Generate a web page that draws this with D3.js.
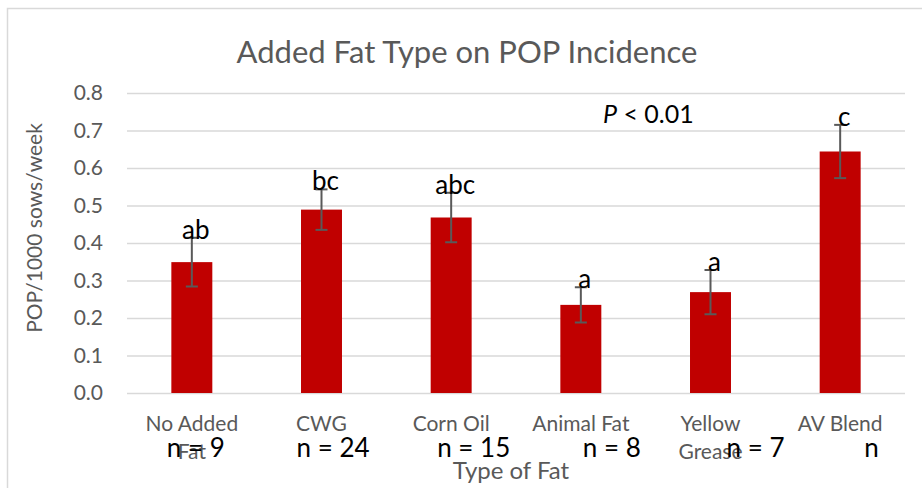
<!DOCTYPE html>
<html>
<head>
<meta charset="utf-8">
<script src="https://cdn.jsdelivr.net/npm/d3@7"></script>
<style>
  body { margin: 0; background: #fff; }
  svg { display: block; font-family: Lato, 'Open Sans', sans-serif; }
</style>
</head>
<body>
<svg id="chart"></svg>
<script>
// data
const fatTypes = ['No Added Fat', 'CWG', 'Corn Oil', 'Animal Fat', 'Yellow Grease', 'AV Blend'];
const fatLines = [['No Added', 'Fat'], ['CWG'], ['Corn Oil'], ['Animal Fat'], ['Yellow', 'Grease'], ['AV Blend']];
const popValues = [0.349, 0.489, 0.468, 0.235, 0.269, 0.644];
const popErrors = [0.065, 0.054, 0.066, 0.047, 0.059, 0.071];
const sigLetters = ['ab', 'bc', 'abc', 'a', 'a', 'c'];
const nLabels = ['n = 9', 'n = 24', 'n = 15', 'n = 8', 'n = 7', 'n'];
const yTicks = [0, 0.1, 0.2, 0.3, 0.4, 0.5, 0.6, 0.7, 0.8];

const d3 = window.d3;

const W = 922, H = 488;
const margin = { top: 93, right: 17, bottom: 95, left: 127 };
const width = W - margin.left - margin.right;
const height = H - margin.top - margin.bottom;

const svg = d3.select('#chart').attr('width', W).attr('height', H);

// chart frame (only the top and left edges fall inside the picture)
svg.append('path')
  .attr('d', `M7.5,${H} V8.5 H${W}`)
  .attr('fill', 'none')
  .attr('stroke', '#d9d9d9')
  .attr('stroke-width', 1.5);

svg.append('text')
  .attr('x', 467).attr('y', 63)
  .attr('text-anchor', 'middle')
  .attr('fill', '#595959')
  .style('font-size', '31px')
  .text('Added Fat Type on POP Incidence');

const g = svg.append('g').attr('transform', `translate(${margin.left}, ${margin.top})`);

const x = d3.scaleBand()
  .domain(fatTypes)
  .range([0, width])
  .paddingInner(0.684)
  .paddingOuter(0.342);

const y = d3.scaleLinear()
  .domain([0, 0.8])
  .range([height, 0]);

// gridlines
const grid = g.append('g')
  .call(d3.axisLeft(y).tickValues(yTicks).tickSize(-width).tickFormat(''));
grid.select('.domain').remove();
grid.selectAll('line').attr('stroke', '#d9d9d9').attr('stroke-width', 1.5);

// y tick labels
const yAxis = g.append('g')
  .call(d3.axisLeft(y).tickValues(yTicks).tickSize(0).tickPadding(24).tickFormat(d3.format('.1f')));
yAxis.select('.domain').remove();
yAxis.selectAll('text')
  .attr('fill', '#595959')
  .style('font-size', '21px')
  .style('font-family', 'Lato, sans-serif');

// bars
g.selectAll('rect.bar')
  .data(fatTypes)
  .enter()
  .append('rect')
  .attr('class', 'bar')
  .attr('fill', '#c00000')
  .attr('x', d => x(d))
  .attr('y', (d, i) => y(popValues[i]))
  .attr('width', x.bandwidth())
  .attr('height', (d, i) => height - y(popValues[i]));

// error bars
const cx = d => x(d) + x.bandwidth() / 2;
const err = g.selectAll('g.err')
  .data(fatTypes)
  .enter()
  .append('g')
  .attr('class', 'err')
  .attr('stroke', '#595959')
  .attr('stroke-width', 2);
err.append('line')
  .attr('x1', cx).attr('x2', cx)
  .attr('y1', (d, i) => y(popValues[i] + popErrors[i]))
  .attr('y2', (d, i) => y(popValues[i] - popErrors[i]));
err.append('line')
  .attr('x1', d => cx(d) - 6).attr('x2', d => cx(d) + 6)
  .attr('y1', (d, i) => y(popValues[i] + popErrors[i]))
  .attr('y2', (d, i) => y(popValues[i] + popErrors[i]));
err.append('line')
  .attr('x1', d => cx(d) - 6).attr('x2', d => cx(d) + 6)
  .attr('y1', (d, i) => y(popValues[i] - popErrors[i]))
  .attr('y2', (d, i) => y(popValues[i] - popErrors[i]));

// significance letters
g.selectAll('text.sig')
  .data(fatTypes)
  .enter()
  .append('text')
  .attr('class', 'sig')
  .attr('x', d => cx(d) + 4)
  .attr('y', (d, i) => y(popValues[i] + popErrors[i]) + 1)
  .attr('text-anchor', 'middle')
  .attr('fill', '#000')
  .style('font-size', '26px')
  .text((d, i) => sigLetters[i]);

// category labels
const cats = g.selectAll('text.cat')
  .data(fatTypes)
  .enter()
  .append('text')
  .attr('class', 'cat')
  .attr('text-anchor', 'middle')
  .attr('fill', '#595959')
  .style('font-size', '21px')
  .attr('transform', d => `translate(${cx(d)}, ${height + 38})`);
cats.selectAll('tspan')
  .data((d, i) => fatLines[i])
  .enter()
  .append('tspan')
  .attr('x', 0)
  .attr('y', (d, i) => i * 28)
  .text(d => d);

// n = ... text box laid over the axis labels
const nShift = [-25, -25, -14, 2, 16, 24];
g.selectAll('text.nlab')
  .data(fatTypes)
  .enter()
  .append('text')
  .attr('class', 'nlab')
  .attr('x', (d, i) => cx(d) + nShift[i])
  .attr('y', height + 64)
  .attr('fill', '#000')
  .style('font-size', '26px')
  .text((d, i) => nLabels[i]);

// P value note
const pNote = svg.append('text')
  .attr('x', 603).attr('y', 123)
  .attr('fill', '#000')
  .style('font-size', '25px');
pNote.append('tspan').style('font-style', 'italic').text('P');
pNote.append('tspan').text(' < 0.01');

// axis titles
svg.append('text')
  .attr('x', 511).attr('y', 479)
  .attr('text-anchor', 'middle')
  .attr('fill', '#595959')
  .style('font-size', '24px')
  .text('Type of Fat');

svg.append('text')
  .attr('transform', 'translate(42, 228) rotate(-90)')
  .attr('text-anchor', 'middle')
  .attr('fill', '#595959')
  .style('font-size', '21px')
  .text('POP/1000 sows/week');
</script>
</body>
</html>
